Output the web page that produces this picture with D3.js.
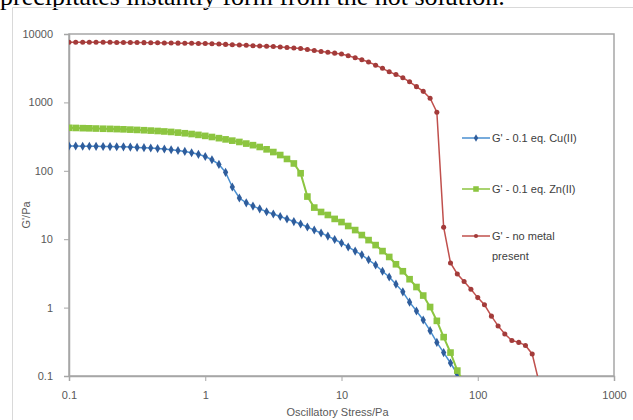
<!DOCTYPE html>
<html>
<head>
  <title>G' versus oscillatory stress</title>
  <script src="https://d3js.org/d3.v7.min.js"></script>
  <style>
    body { margin: 0; background: #fff; }
    svg { display: block; }
  </style>
</head>
<body>

<div id="chart"></div>

<script>
// Stress ramp (Pa), same for all three runs
const stress = [
  0.1, 0.112, 0.126, 0.141, 0.158, 0.178, 0.2, 0.224, 0.251, 0.282,
  0.316, 0.355, 0.398, 0.447, 0.501, 0.562, 0.631, 0.708, 0.794, 0.891,
  1, 1.12, 1.26, 1.41, 1.58, 1.78, 2, 2.24, 2.51, 2.82,
  3.16, 3.55, 3.98, 4.47, 5.01, 5.62, 6.31, 7.08, 7.94, 8.91,
  10, 11.2, 12.6, 14.1, 15.8, 17.8, 20, 22.4, 25.1, 28.2,
  31.6, 35.5, 39.8, 44.7, 50.1, 56.2, 63.1, 70.8, 79.4, 89.1,
  100, 112, 126, 141, 158, 178, 200, 224, 251, 282
];

// G' (Pa)
const cuValues = [
  230, 230, 229, 229, 228, 227, 226, 225, 224, 222,
  220, 218, 215, 212, 208, 203, 198, 192, 184, 174,
  162, 145, 124, 95, 58, 40, 34, 30.5, 27.8, 25.2,
  23.4, 21.5, 19.7, 18.1, 16.7, 15.1, 13.6, 12.3, 11.1, 9.9,
  8.8, 7.7, 6.7, 5.9, 5.0, 4.2, 3.4, 2.8, 2.2, 1.7,
  1.2, 0.89, 0.66, 0.46, 0.31, 0.22, 0.155, 0.107, 0.07
];

const znValues = [
  425, 423, 420, 418, 415, 412, 410, 407, 404, 400,
  396, 392, 387, 382, 376, 370, 362, 354, 345, 335,
  324, 312, 300, 288, 276, 264, 250, 237, 223, 206,
  188, 170, 149, 128, 92, 42, 29, 25, 22.6, 19.8,
  17.8, 15.6, 13.6, 11.5, 9.7, 8.2, 6.7, 5.5, 4.3, 3.4,
  2.6, 2.0, 1.5, 1.02, 0.64, 0.37, 0.22, 0.12, 0.08
];

const noMetalValues = [
  7600, 7600, 7600, 7580, 7560, 7550, 7550, 7530, 7520, 7500,
  7500, 7480, 7450, 7430, 7400, 7380, 7350, 7330, 7300, 7280,
  7250, 7200, 7130, 7050, 6980, 6900, 6830, 6750, 6680, 6620,
  6550, 6450, 6350, 6250, 6150, 5950, 5750, 5550, 5400, 5250,
  5100, 4800, 4500, 4200, 3900, 3500, 3150, 2800, 2550, 2300,
  2000, 1700, 1450, 1150, 720, 15, 4.5, 3.1, 2.4, 1.85,
  1.4, 1.1, 0.75, 0.54, 0.41, 0.33, 0.31, 0.28, 0.21, 0.08
];

const seriesNames = [["G' - 0.1 eq. Cu(II)"], ["G' - 0.1 eq. Zn(II)"], ["G' - no metal", "present"]];
const xTicks = [0.1, 1, 10, 100, 1000];
const yTicks = [0.1, 1, 10, 100, 1000, 10000];

const W = 633, H = 420;
const margin = { top: 34, right: 19, bottom: 44, left: 69 };
const width = W - margin.left - margin.right;
const height = H - margin.top - margin.bottom;

const series = [
  { name: seriesNames[0], values: cuValues, line: "#4a8fd0", fill: "#2f5d9c", shape: d3.symbolDiamond, size: 24, lw: 1.5 },
  { name: seriesNames[1], values: znValues, line: "#8cc540", fill: "#8cc540", shape: d3.symbolSquare, size: 44, lw: 2 },
  { name: seriesNames[2], values: noMetalValues, line: "#c0504d", fill: "#a33b3a", shape: d3.symbolCircle, size: 20, lw: 1.5 }
];

const svg = d3.select("#chart")
  .append("svg")
  .attr("width", W)
  .attr("height", H)
  .style("font-family", "'Liberation Sans', Arial, sans-serif");

// text cut off above the figure
svg.append("text")
  .attr("x", 0)
  .attr("y", 5)
  .style("font-family", "'Liberation Serif', 'Times New Roman', serif")
  .style("font-size", "26px")
  .attr("fill", "#000")
  .text("precipitates instantly form from the hot solution.");

// chart area frame
svg.append("path")
  .attr("d", `M12.5,${H} V7.5 H${W}`)
  .attr("fill", "none")
  .attr("stroke", "#d9d9d9");

const g = svg.append("g")
  .attr("transform", `translate(${margin.left},${margin.top})`);

const x = d3.scaleLog().domain([0.1, 1000]).range([0, width]);
const y = d3.scaleLog().domain([0.1, 10000]).range([height, 0]);

const fmt = d => d < 1 ? String(d) : d3.format("d")(d);

g.append("defs").append("clipPath").attr("id", "plot-clip")
  .append("rect").attr("width", width).attr("height", height);

// plot border
g.append("rect")
  .attr("width", width)
  .attr("height", height)
  .attr("fill", "none")
  .attr("stroke", "#a6a6a6")
  .attr("stroke-width", 1.5);

const yAxis = g.append("g")
  .call(d3.axisLeft(y).tickValues(yTicks).tickFormat(fmt).tickSize(5).tickPadding(11));

const xAxis = g.append("g")
  .attr("transform", `translate(0,${height})`)
  .call(d3.axisBottom(x).tickValues(xTicks).tickFormat(fmt).tickSize(5).tickPadding(10));

[xAxis, yAxis].forEach(a => {
  a.select(".domain").attr("stroke", "#a6a6a6").attr("stroke-width", 1.5);
  a.selectAll(".tick line").attr("stroke", "#a6a6a6");
  a.selectAll(".tick text")
    .attr("fill", "#595959")
    .style("font-size", "11px")
    .style("font-family", "'Liberation Sans', Arial, sans-serif");
});

// axis titles
g.append("text")
  .attr("x", width / 2 - 4)
  .attr("y", height + 40)
  .attr("text-anchor", "middle")
  .attr("fill", "#595959")
  .style("font-size", "11px")
  .text("Oscillatory Stress/Pa");

g.append("text")
  .attr("transform", `translate(${-39},${height / 2 + 10}) rotate(-90)`)
  .attr("text-anchor", "middle")
  .attr("fill", "#595959")
  .style("font-size", "11px")
  .text("G'/Pa");

// series
const line = d3.line()
  .x(d => x(d.s))
  .y(d => y(d.v));

const plot = g.append("g").attr("clip-path", "url(#plot-clip)");

series.forEach(sr => {
  const pts = sr.values.map((v, i) => ({ s: stress[i], v: v }));
  plot.append("path")
    .datum(pts)
    .attr("fill", "none")
    .attr("stroke", sr.line)
    .attr("stroke-width", sr.lw)
    .attr("d", line);
  plot.selectAll(null)
    .data(pts)
    .enter()
    .append("path")
    .attr("transform", d => `translate(${x(d.s)},${y(d.v)})`)
    .attr("d", d3.symbol().type(sr.shape).size(sr.size))
    .attr("fill", sr.fill);
});

// legend
const legendY = [104, 155, 202];
const legend = g.append("g").attr("transform", "translate(393,0)");
series.forEach((sr, i) => {
  const row = legend.append("g").attr("transform", `translate(0,${legendY[i]})`);
  row.append("line")
    .attr("x1", 0).attr("x2", 28)
    .attr("stroke", sr.line)
    .attr("stroke-width", 1.5);
  row.append("path")
    .attr("transform", "translate(14,0)")
    .attr("d", d3.symbol().type(sr.shape).size(sr.size * 0.7))
    .attr("fill", sr.fill);
  sr.name.forEach((t, j) => {
    row.append("text")
      .attr("x", 30)
      .attr("y", j * 20)
      .attr("dy", "0.35em")
      .attr("fill", "#404040")
      .style("font-size", "11px")
      .text(t);
  });
});
</script>

</body>
</html>
